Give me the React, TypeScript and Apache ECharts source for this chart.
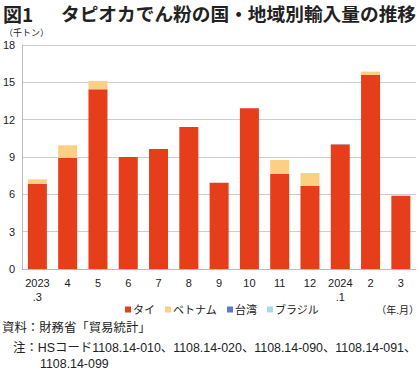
import React, { useEffect, useRef } from "react";
import * as echarts from "echarts";

const categories = ["2023\n.3", "4", "5", "6", "7", "8", "9", "10", "11", "12", "2024\n.1", "2", "3"];
const thai = [6.83, 8.92, 14.44, 9.0, 9.65, 11.41, 6.94, 12.92, 7.66, 6.67, 10.0, 15.6, 5.89];
const vietnam = [0.37, 1.02, 0.67, 0, 0, 0, 0, 0, 1.1, 0.99, 0, 0.26, 0];
const taiwan = [0, 0, 0, 0, 0, 0, 0, 0, 0, 0.02, 0.02, 0, 0];
const brazil = [0, 0, 0, 0, 0, 0, 0, 0, 0, 0, 0, 0, 0.02];
const yTicks = { min: 0, max: 18, interval: 3 };

const FONT = "'Noto Sans CJK JP', 'Noto Sans', sans-serif";
const MIX = "'Liberation Sans', 'Noto Sans CJK JP', sans-serif";

export default function App() {
  const ref = useRef<HTMLDivElement>(null);
  useEffect(() => {
    document.body.style.margin = "0";
    const chart = echarts.init(ref.current!, undefined, { renderer: "svg" });
    const mk = (name: string, data: number[], color: string) => ({
      name,
      type: "bar",
      stack: "total",
      data,
      barWidth: 19,
      itemStyle: { color },
    });
    chart.setOption({
      animation: false,
      textStyle: { fontFamily: MIX },
      grid: { left: 21, right: 4, top: 45, bottom: 106 },
      legend: {
        top: 299,
        left: 120,
        itemWidth: 6,
        itemHeight: 6,
        itemGap: 10,
        icon: "rect",
        textStyle: { fontSize: 11, color: "#222", fontFamily: MIX, padding: [0, 0, 0, -3] },
        data: ["タイ", "ベトナム", "台湾", "ブラジル"],
      },
      xAxis: {
        type: "category",
        data: categories,
        axisLine: { lineStyle: { color: "#bbb" } },
        axisTick: { show: false },
        axisLabel: { fontSize: 11, color: "#222", lineHeight: 14, margin: 7, interval: 0, fontFamily: MIX },
      },
      yAxis: {
        type: "value",
        min: yTicks.min,
        max: yTicks.max,
        interval: yTicks.interval,
        axisLine: { show: true, lineStyle: { color: "#bbb" } },
        axisTick: { show: false },
        splitLine: { lineStyle: { color: "#ccc", width: 1 } },
        axisLabel: { fontSize: 11, color: "#222", margin: 7, fontFamily: MIX },
      },
      series: [
        mk("タイ", thai, "#e63d1a"),
        mk("ベトナム", vietnam, "#fbcf84"),
        mk("台湾", taiwan, "#5b7cc4"),
        mk("ブラジル", brazil, "#a8dce8"),
      ],
      graphic: [
        { type: "text", left: 3, top: 4, style: { text: "図1", fontSize: 19, fontWeight: "bold", fontFamily: FONT, fill: "#222" } },
        { type: "text", left: 61, top: 3, style: { text: "タピオカでん粉の国・地域別輸入量の推移", fontSize: 18.7, fontWeight: "bold", fontFamily: FONT, fill: "#222" } },
        { type: "text", left: 4, top: 28, style: { text: "（千トン）", fontSize: 9, fontFamily: FONT, fill: "#222" } },
        { type: "text", right: 1, top: 304, style: { text: "（年.月）", fontSize: 10, fontFamily: FONT, fill: "#222" } },
        { type: "text", left: 2, top: 322, style: { text: "資料：財務省「貿易統計」", fontSize: 12.4, fontFamily: MIX, fill: "#222" } },
        { type: "text", left: 13, top: 342, style: { text: "注：HSコード1108.14-010、1108.14-020、1108.14-090、1108.14-091、", fontSize: 12.4, fontFamily: MIX, fill: "#222" } },
        { type: "text", left: 40, top: 358, style: { text: "1108.14-099", fontSize: 12.4, fontFamily: MIX, fill: "#222" } },
      ],
    });
    return () => chart.dispose();
  }, []);
  return <div ref={ref} style={{ width: 420, height: 375 }} />;
}
